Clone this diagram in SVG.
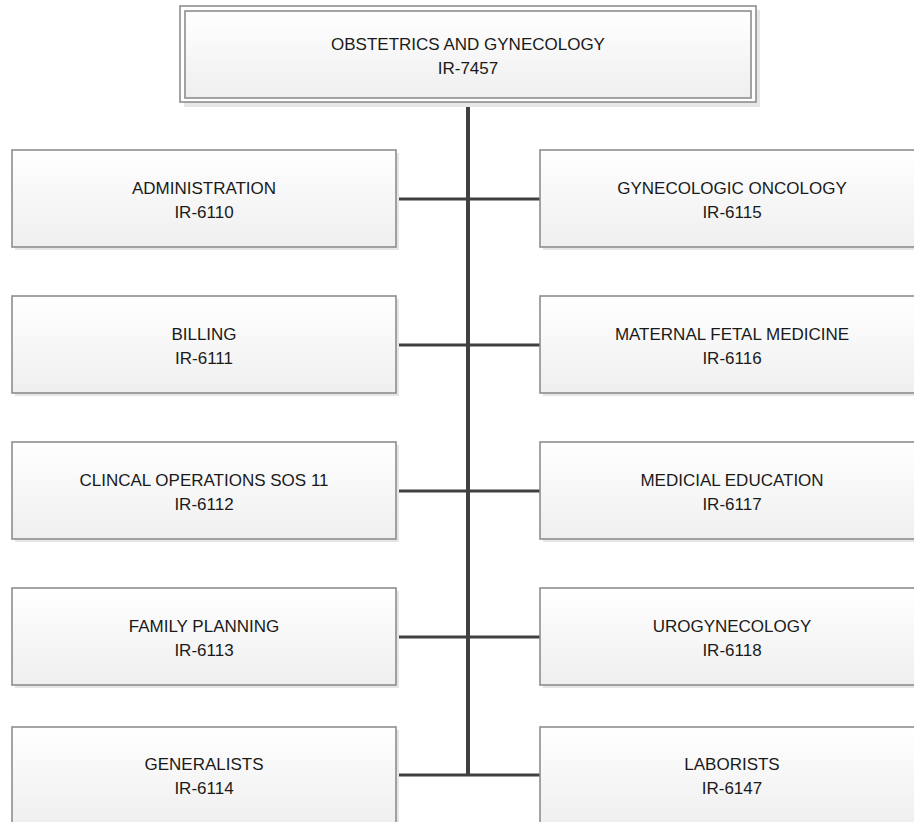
<svg xmlns="http://www.w3.org/2000/svg" width="914" height="822" viewBox="0 0 914 822">
<defs>
<linearGradient id="g" x1="0" y1="0" x2="0" y2="1">
<stop offset="0" stop-color="#ffffff"/>
<stop offset="1" stop-color="#efefef"/>
</linearGradient>
<style>
.box{fill:url(#g);stroke:#8e8e8e;stroke-width:1.6}
.sh{fill:#e6e6e6}
.t{font-family:"Liberation Sans",Arial,sans-serif;font-size:17px;fill:#1a1a1a;text-anchor:middle}
.c{stroke:#404040;fill:none}
</style>
</defs>
<rect width="914" height="822" fill="#ffffff"/>
<g id="connectors">
<line class="c" x1="468" y1="102" x2="468" y2="776" stroke-width="4"/>
<line class="c" x1="396" y1="199" x2="540" y2="199" stroke-width="3"/>
<line class="c" x1="396" y1="345" x2="540" y2="345" stroke-width="3"/>
<line class="c" x1="396" y1="491" x2="540" y2="491" stroke-width="3"/>
<line class="c" x1="396" y1="637" x2="540" y2="637" stroke-width="3"/>
<line class="c" x1="396" y1="775" x2="540" y2="775" stroke-width="3"/>
</g>
<g id="root">
<rect class="sh" x="184" y="10" width="576" height="97"/>
<rect x="180" y="6" width="576" height="96" fill="#ffffff" stroke="#8e8e8e" stroke-width="1.6"/>
<rect class="box" x="185" y="11" width="566" height="87"/>
<text class="t" x="468" y="50">OBSTETRICS AND GYNECOLOGY</text>
<text class="t" x="468" y="74">IR-7457</text>
</g>
<g id="n6110">
<rect class="sh" x="15" y="153" width="384" height="97"/>
<rect class="box" x="12" y="150" width="384" height="97"/>
<text class="t" x="204" y="194">ADMINISTRATION</text>
<text class="t" x="204" y="218">IR-6110</text>
</g>
<g id="n6111">
<rect class="sh" x="15" y="299" width="384" height="97"/>
<rect class="box" x="12" y="296" width="384" height="97"/>
<text class="t" x="204" y="340">BILLING</text>
<text class="t" x="204" y="364">IR-6111</text>
</g>
<g id="n6112">
<rect class="sh" x="15" y="445" width="384" height="97"/>
<rect class="box" x="12" y="442" width="384" height="97"/>
<text class="t" x="204" y="486">CLINCAL OPERATIONS SOS 11</text>
<text class="t" x="204" y="510">IR-6112</text>
</g>
<g id="n6113">
<rect class="sh" x="15" y="591" width="384" height="97"/>
<rect class="box" x="12" y="588" width="384" height="97"/>
<text class="t" x="204" y="632">FAMILY PLANNING</text>
<text class="t" x="204" y="656">IR-6113</text>
</g>
<g id="n6114">
<rect class="sh" x="15" y="730" width="384" height="97"/>
<rect class="box" x="12" y="727" width="384" height="97"/>
<text class="t" x="204" y="770">GENERALISTS</text>
<text class="t" x="204" y="794">IR-6114</text>
</g>
<g id="n6115">
<rect class="sh" x="543" y="153" width="384" height="97"/>
<rect class="box" x="540" y="150" width="384" height="97"/>
<text class="t" x="732" y="194">GYNECOLOGIC ONCOLOGY</text>
<text class="t" x="732" y="218">IR-6115</text>
</g>
<g id="n6116">
<rect class="sh" x="543" y="299" width="384" height="97"/>
<rect class="box" x="540" y="296" width="384" height="97"/>
<text class="t" x="732" y="340">MATERNAL FETAL MEDICINE</text>
<text class="t" x="732" y="364">IR-6116</text>
</g>
<g id="n6117">
<rect class="sh" x="543" y="445" width="384" height="97"/>
<rect class="box" x="540" y="442" width="384" height="97"/>
<text class="t" x="732" y="486">MEDICIAL EDUCATION</text>
<text class="t" x="732" y="510">IR-6117</text>
</g>
<g id="n6118">
<rect class="sh" x="543" y="591" width="384" height="97"/>
<rect class="box" x="540" y="588" width="384" height="97"/>
<text class="t" x="732" y="632">UROGYNECOLOGY</text>
<text class="t" x="732" y="656">IR-6118</text>
</g>
<g id="n6147">
<rect class="sh" x="543" y="730" width="384" height="97"/>
<rect class="box" x="540" y="727" width="384" height="97"/>
<text class="t" x="732" y="770">LABORISTS</text>
<text class="t" x="732" y="794">IR-6147</text>
</g>
</svg>
